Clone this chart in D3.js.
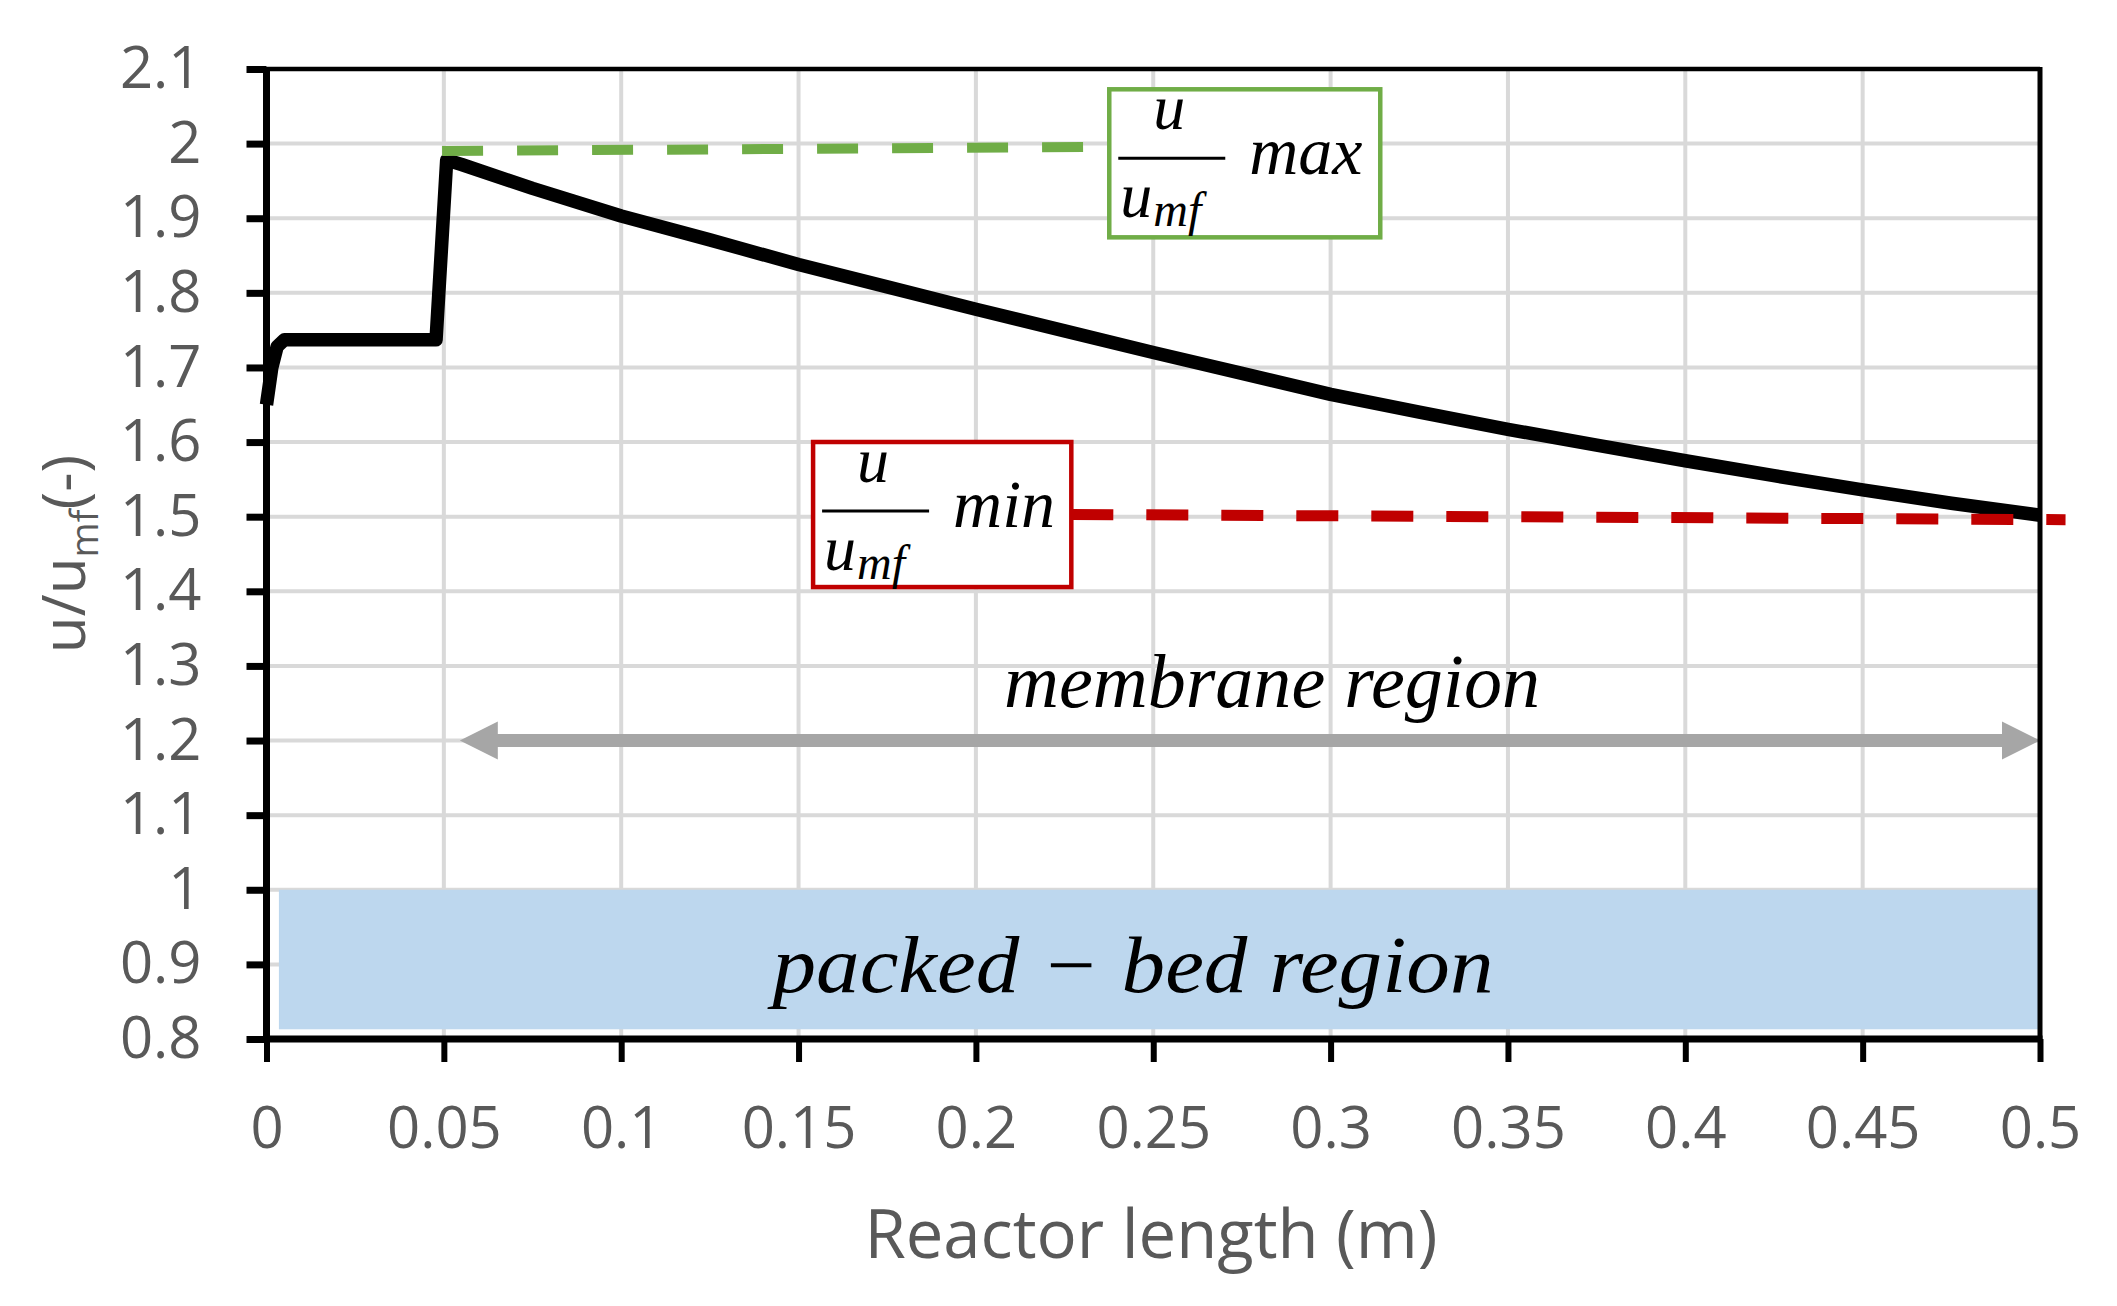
<!DOCTYPE html>
<html>
<head>
<meta charset="utf-8">
<script src="https://cdn.jsdelivr.net/npm/d3@7"></script>
<style>
  body { margin: 0; background: #fff; }
  svg { display: block; }
</style>
</head>
<body>
<svg id="chart" width="2117" height="1306"></svg>
<script>
// reactor length (m) and u/umf along it
const curveX = [0, 0.0015, 0.003, 0.005, 0.02, 0.035, 0.0478, 0.0508, 0.055, 0.075, 0.1, 0.125, 0.15, 0.175, 0.2, 0.225, 0.25, 0.275, 0.3, 0.325, 0.35, 0.375, 0.4, 0.425, 0.45, 0.475, 0.5];
const curveY = [1.65, 1.70, 1.728, 1.737, 1.737, 1.737, 1.737, 1.978, 1.972, 1.94, 1.903, 1.871, 1.838, 1.808, 1.778, 1.749, 1.720, 1.692, 1.664, 1.640, 1.617, 1.596, 1.575, 1.555, 1.536, 1.518, 1.502];

// dashed reference levels
const maxLineX = [0.0495, 0.2305];
const maxLineY = [1.990, 1.9955];
const minLineX = [0.2269, 0.5072];
const minLineY = [1.503, 1.496];

// membrane region arrow and packed bed band
const arrowX = [0.0545, 0.5];
const arrowY = 1.2;
const bedX = [0.0035, 0.5];
const bedY = [0.813, 1.0];

const xTicks = [0, 0.05, 0.1, 0.15, 0.2, 0.25, 0.3, 0.35, 0.4, 0.45, 0.5];
const xTickLabels = ["0", "0.05", "0.1", "0.15", "0.2", "0.25", "0.3", "0.35", "0.4", "0.45", "0.5"];
const yTicks = [0.8, 0.9, 1, 1.1, 1.2, 1.3, 1.4, 1.5, 1.6, 1.7, 1.8, 1.9, 2, 2.1];
const yTickLabels = ["0.8", "0.9", "1", "1.1", "1.2", "1.3", "1.4", "1.5", "1.6", "1.7", "1.8", "1.9", "2", "2.1"];

const plotL = 266.5, plotT = 69, plotR = 2040, plotB = 1039;

const x = d3.scaleLinear().domain([0, 0.5]).range([plotL, plotR]);
const y = d3.scaleLinear().domain([0.8, 2.1]).range([plotB, plotT]);

const svg = d3.select('#chart');
const grey = '#595959';
const sans = "'Open Sans', 'DejaVu Sans', sans-serif";
const serif = "'Liberation Serif', 'DejaVu Serif', serif";

// gridlines
svg.append('g').selectAll('line')
    .data(xTicks.slice(1, -1))
    .enter().append('line')
    .attr('x1', d => x(d)).attr('x2', d => x(d))
    .attr('y1', plotT).attr('y2', plotB)
    .attr('stroke', '#d9d9d9').attr('stroke-width', 4);
svg.append('g').selectAll('line')
    .data(yTicks.slice(1, -1))
    .enter().append('line')
    .attr('x1', plotL).attr('x2', plotR)
    .attr('y1', d => y(d)).attr('y2', d => y(d))
    .attr('stroke', '#d9d9d9').attr('stroke-width', 4);

// packed bed band
svg.append('rect')
    .attr('x', x(bedX[0])).attr('width', x(bedX[1]) - x(bedX[0]))
    .attr('y', y(bedY[1])).attr('height', y(bedY[0]) - y(bedY[1]))
    .attr('fill', '#bdd7ee');

svg.append('text')
    .attr('x', 1133).attr('y', 992)
    .attr('text-anchor', 'middle')
    .attr('font-family', serif).attr('font-style', 'italic')
    .attr('font-size', 80)
    .attr('textLength', 721).attr('lengthAdjust', 'spacingAndGlyphs')
    .text('packed \u2212 bed region');

// membrane arrow
const ay = y(arrowY), ax0 = x(arrowX[0]), ax1 = x(arrowX[1]);
svg.append('line')
    .attr('x1', ax0 + 30).attr('x2', ax1 - 30)
    .attr('y1', ay).attr('y2', ay)
    .attr('stroke', '#a6a6a6').attr('stroke-width', 13);
svg.append('path')
    .attr('d', `M${ax0},${ay} L${ax0 + 38},${ay - 19} L${ax0 + 38},${ay + 19} Z`)
    .attr('fill', '#a6a6a6');
svg.append('path')
    .attr('d', `M${ax1},${ay} L${ax1 - 38},${ay - 19} L${ax1 - 38},${ay + 19} Z`)
    .attr('fill', '#a6a6a6');

svg.append('text')
    .attr('x', 1272).attr('y', 707)
    .attr('text-anchor', 'middle')
    .attr('font-family', serif).attr('font-style', 'italic')
    .attr('font-size', 76)
    .attr('textLength', 536).attr('lengthAdjust', 'spacingAndGlyphs')
    .text('membrane region');

// main curve
const line = d3.line().x(d => x(d[0])).y(d => y(d[1]));
svg.append('path')
    .datum(curveX.map((v, i) => [v, curveY[i]]))
    .attr('d', line)
    .attr('fill', 'none')
    .attr('stroke', '#000')
    .attr('stroke-width', 13.5)
    .attr('stroke-linejoin', 'round');

// max / min dashed lines
svg.append('path')
    .datum(maxLineX.map((v, i) => [v, maxLineY[i]]))
    .attr('d', line)
    .attr('stroke', '#70ad47').attr('stroke-width', 10)
    .attr('stroke-dasharray', '41,34');
svg.append('path')
    .datum(minLineX.map((v, i) => [v, minLineY[i]]))
    .attr('d', line)
    .attr('stroke', '#c00000').attr('stroke-width', 11)
    .attr('stroke-dasharray', '42,33');

// axes frame
svg.append('line').attr('x1', plotL).attr('x2', plotR).attr('y1', plotT).attr('y2', plotT)
    .attr('stroke', '#000').attr('stroke-width', 4.5);
svg.append('line').attr('x1', plotR).attr('x2', plotR).attr('y1', plotT - 2).attr('y2', plotB)
    .attr('stroke', '#000').attr('stroke-width', 5);
svg.append('line').attr('x1', plotL).attr('x2', plotL).attr('y1', plotT - 2).attr('y2', plotB + 3)
    .attr('stroke', '#000').attr('stroke-width', 7);
svg.append('line').attr('x1', plotL - 3).attr('x2', plotR + 2.5).attr('y1', plotB).attr('y2', plotB)
    .attr('stroke', '#000').attr('stroke-width', 7);

const yAxis = svg.append('g')
    .attr('transform', `translate(${plotL},0)`)
    .call(d3.axisLeft(y).tickValues(yTicks).tickSize(20).tickPadding(45)
        .tickFormat((d, i) => yTickLabels[i]));
yAxis.select('.domain').remove();
yAxis.selectAll('line').attr('stroke', '#000').attr('stroke-width', 7);
yAxis.selectAll('text').attr('fill', grey).attr('font-family', sans).attr('font-size', 58);

const xAxis = svg.append('g')
    .attr('transform', `translate(0,${plotB})`)
    .call(d3.axisBottom(x).tickValues(xTicks).tickSize(23).tickPadding(45)
        .tickFormat((d, i) => xTickLabels[i]));
xAxis.select('.domain').remove();
xAxis.selectAll('line').attr('stroke', '#000').attr('stroke-width', 6);
xAxis.selectAll('text').attr('fill', grey).attr('font-family', sans).attr('font-size', 58);

// axis titles
svg.append('text')
    .attr('x', 1151).attr('y', 1258)
    .attr('text-anchor', 'middle')
    .attr('fill', grey).attr('font-family', sans).attr('font-size', 67)
    .text('Reactor length (m)');

const yTitle = svg.append('text')
    .attr('transform', `translate(85,${(plotT + plotB) / 2}) rotate(-90)`)
    .attr('text-anchor', 'middle')
    .attr('fill', grey).attr('font-family', sans).attr('font-size', 60);
yTitle.append('tspan').text('u/u');
yTitle.append('tspan').attr('font-size', 38).attr('dy', 13).text('mf');
yTitle.append('tspan').attr('dy', -13).text('(-)');

// annotation boxes: u/umf max and min
function fracBox(b) {
    const g = svg.append('g');
    const bx = x(b.x0), by = y(b.y1), bw = x(b.x1) - x(b.x0), bh = y(b.y0) - y(b.y1);
    g.append('rect')
        .attr('x', bx).attr('y', by).attr('width', bw).attr('height', bh)
        .attr('fill', '#fff').attr('stroke', b.color).attr('stroke-width', 4.5);
    const t = (tx, ty, size, s) => g.append('text')
        .attr('x', bx + tx).attr('y', by + ty)
        .attr('font-family', serif).attr('font-style', 'italic')
        .attr('font-size', size).attr('fill', '#000').text(s);
    g.append('line')
        .attr('x1', bx + 9).attr('x2', bx + 116)
        .attr('y1', by + 69).attr('y2', by + 69)
        .attr('stroke', '#000').attr('stroke-width', 3);
    t(44, 40, 64, 'u');
    t(11, 128, 64, 'u');
    t(44, 137, 48, 'mf');
    t(140, 85, 68, b.label);
}

fracBox({ x0: 0.2376, x1: 0.3140, y0: 1.8744, y1: 2.0728, color: '#70ad47', label: 'max' });
fracBox({ x0: 0.1541, x1: 0.2269, y0: 1.4057, y1: 1.6001, color: '#c00000', label: 'min' });
</script>
</body>
</html>
